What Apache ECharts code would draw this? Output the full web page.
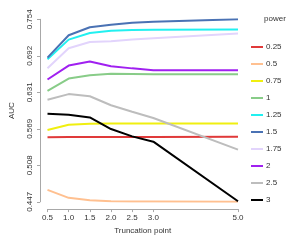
<!DOCTYPE html>
<html>
<head>
<meta charset="utf-8">
<script src="https://cdn.jsdelivr.net/npm/echarts@6/dist/echarts.min.js"></script>
<style>
html,body{margin:0;padding:0;background:#fff;}
#c{width:300px;height:240px;}
</style>
</head>
<body>
<div id="c"></div>
<script>
// ---- data ----
const truncation = [0.5, 1.0, 1.5, 2.0, 2.5, 3.0, 5.0];
const xTicks = [0.5, 1.0, 1.5, 2.0, 2.5, 3.0, 5.0];
const yTicks = [0.4466, 0.50804, 0.56948, 0.63092, 0.69236, 0.7538];
const yTickLabels = ['0.447', '0.508', '0.569', '0.631', '0.692', '0.754'];
const powers = ['0.25', '0.5', '0.75', '1', '1.25', '1.5', '1.75', '2', '2.5', '3'];
const auc_p025 = [0.5554, 0.5557, 0.5558, 0.5558, 0.5558, 0.5558, 0.5559];
const auc_p05  = [0.4667, 0.4533, 0.4493, 0.4476, 0.4472, 0.4470, 0.4466];
const auc_p075 = [0.5675, 0.5764, 0.5780, 0.5784, 0.5784, 0.5784, 0.5784];
const auc_p1   = [0.6334, 0.6541, 0.6598, 0.6620, 0.6617, 0.6615, 0.6615];
const auc_p125 = [0.6867, 0.7196, 0.7308, 0.7345, 0.7358, 0.7363, 0.7367];
const auc_p15  = [0.6893, 0.7269, 0.7404, 0.7447, 0.7481, 0.7498, 0.7538];
const auc_p175 = [0.6715, 0.7051, 0.7157, 0.7169, 0.7199, 0.7219, 0.7300];
const auc_p2   = [0.6524, 0.6759, 0.6826, 0.6749, 0.6712, 0.6682, 0.6682];
const auc_p25  = [0.6183, 0.6279, 0.6242, 0.6091, 0.5982, 0.5876, 0.5344];
const auc_p3   = [0.5948, 0.5932, 0.5886, 0.5691, 0.5567, 0.5478, 0.4476];
const seriesValues = [auc_p025, auc_p05, auc_p075, auc_p1, auc_p125, auc_p15, auc_p175, auc_p2, auc_p25, auc_p3];
const colors = ['#e03a3a', '#ffc090', '#f0ef10', '#88cc88', '#22f0f0', '#4a72b4', '#e2d4fc', '#a020f0', '#bdbdbd', '#000000'];

const FONT = '"Liberation Sans", Arial, sans-serif';
const AXIS_COLOR = '#a8a8a8';
const TEXT_COLOR = '#333333';

const chart = echarts.init(document.getElementById('c'), null, {renderer: 'canvas'});

const series = powers.map((p, i) => ({
  name: p,
  type: 'line',
  data: truncation.map((x, j) => [x, seriesValues[i][j]]),
  showSymbol: false,
  symbol: 'none',
  lineStyle: {color: colors[i], width: 2},
  itemStyle: {color: colors[i]},
  emphasis: {disabled: true},
  animation: false
}));

chart.setOption({
  animation: false,
  textStyle: {fontFamily: FONT},
  title: {
    text: 'power',
    left: 264, top: 15,
    textStyle: {fontFamily: FONT, fontSize: 8, fontWeight: 'normal', color: TEXT_COLOR},
    padding: 0
  },
  legend: {
    orient: 'vertical',
    left: 251, top: 43,
    icon: 'rect',
    itemWidth: 12, itemHeight: 2,
    itemGap: 9,
    padding: 0,
    textStyle: {fontFamily: FONT, fontSize: 8, color: TEXT_COLOR, padding: [0, 0, 0, -2]},
    data: powers,
    selectedMode: false
  },
  grid: {
    left: 38, top: 19.3, width: 200, height: 183,
    containLabel: false
  },
  xAxis: {
    type: 'value',
    min: 0.5, max: 5.0,
    offset: 7.3,
    name: 'Truncation point',
    nameLocation: 'middle',
    nameGap: 15,
    nameTextStyle: {fontFamily: FONT, fontSize: 8, color: TEXT_COLOR},
    axisLine: {show: true, lineStyle: {color: AXIS_COLOR, width: 1}},
    axisTick: {show: true, length: 3, customValues: xTicks, lineStyle: {color: AXIS_COLOR}},
    axisLabel: {
      customValues: xTicks,
      margin: 5,
      fontFamily: FONT, fontSize: 8, color: TEXT_COLOR,
      formatter: v => v.toFixed(1)
    },
    splitLine: {show: false}
  },
  yAxis: {
    type: 'value',
    min: 0.4466, max: 0.7538,
    offset: 7.5,
    name: 'AUC',
    nameLocation: 'middle',
    nameRotate: 90,
    nameGap: 24,
    nameTextStyle: {fontFamily: FONT, fontSize: 8, color: TEXT_COLOR},
    axisLine: {show: true, lineStyle: {color: AXIS_COLOR, width: 1}},
    axisTick: {show: true, length: 3, customValues: yTicks, lineStyle: {color: AXIS_COLOR}},
    axisLabel: {
      customValues: yTicks,
      rotate: 90,
      margin: 6,
      fontFamily: FONT, fontSize: 8, color: TEXT_COLOR,
      formatter: v => {
        let best = 0;
        for (let k = 1; k < yTicks.length; k++) {
          if (Math.abs(yTicks[k] - v) < Math.abs(yTicks[best] - v)) best = k;
        }
        return yTickLabels[best];
      }
    },
    splitLine: {show: false}
  },
  series: series
});
</script>
</body>
</html>
